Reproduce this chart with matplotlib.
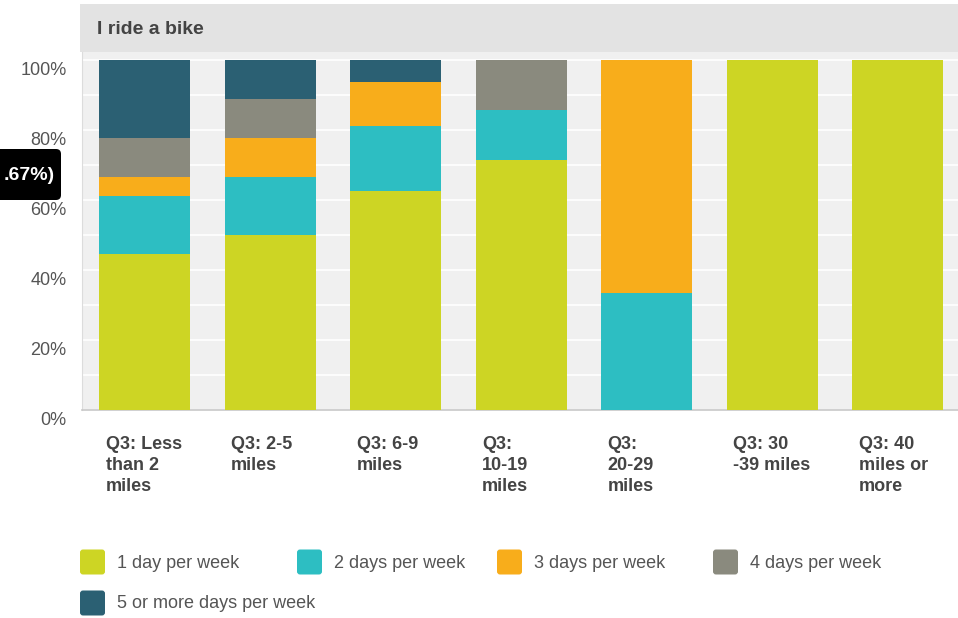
import matplotlib
matplotlib.use("Agg")
import matplotlib.pyplot as plt
from matplotlib.patches import FancyBboxPatch, Rectangle
from matplotlib.transforms import ScaledTranslation
import numpy as np

plt.rcParams['font.family'] = ['Liberation Sans', 'DejaVu Sans']

title = "I ride a bike"
categories = ["Q3: Less\nthan 2\nmiles", "Q3: 2-5\nmiles", "Q3: 6-9\nmiles",
              "Q3:\n10-19\nmiles", "Q3:\n20-29\nmiles", "Q3: 30\n-39 miles",
              "Q3: 40\nmiles or\nmore"]
series_names = ["1 day per week", "2 days per week", "3 days per week",
                "4 days per week", "5 or more days per week"]
one_day = [44.44, 50.00, 62.50, 71.43, 0.00, 100.0, 100.0]
two_days = [16.67, 16.67, 18.75, 14.29, 33.33, 0.0, 0.0]
three_days = [5.56, 11.11, 12.50, 0.00, 66.67, 0.0, 0.0]
four_days = [11.11, 11.11, 0.00, 14.29, 0.00, 0.0, 0.0]
five_plus = [22.22, 11.11, 6.25, 0.00, 0.00, 0.0, 0.0]
yticks = [0, 20, 40, 60, 80, 100]
ytick_labels = ["0%", "20%", "40%", "60%", "80%", "100%"]
tooltip_text = ".67%)"

colors = ["#cdd524", "#2dbec2", "#f8ad1b", "#8a8a7e", "#2b6073"]

W, H = 958, 618
fig = plt.figure(figsize=(W / 100, H / 100), dpi=100)
fig.patch.set_facecolor("white")

# overlay in pixel coordinates for decorations
ov = fig.add_axes([0, 0, 1, 1], zorder=0)
ov.set_xlim(0, W)
ov.set_ylim(H, 0)
ov.axis("off")
ov.add_patch(Rectangle((80, 4), W - 80, 48, facecolor="#e3e3e3", edgecolor="none"))
ov.text(97, 30, title, fontsize=14, fontweight="bold", color="#444444",
        va="center", ha="left")

# main axes
left_px, right_px = 82, 82 + 7 * 125.5
top_px, bot_px = 52, 410
ymax = 100 * (bot_px - top_px) / (bot_px - 60)
ax = fig.add_axes([left_px / W, (H - bot_px) / H, (right_px - left_px) / W,
                   (bot_px - top_px) / H], zorder=1)
ax.set_facecolor("#f0f0f0")
x = np.arange(len(categories))
data = [one_day, two_days, three_days, four_days, five_plus]
bottom = np.zeros(len(categories))
for vals, c, name in zip(data, colors, series_names):
    ax.bar(x, vals, width=0.725, bottom=bottom, color=c, label=name, zorder=3)
    bottom += np.array(vals)

ax.set_xlim(-0.5, 6.5)
ax.set_ylim(0, ymax)
ax.set_axisbelow(True)
ax.set_yticks(yticks)
ax.set_yticks(np.arange(10, 101, 20), minor=True)
ax.yaxis.grid(True, which="both", color="white", linewidth=1.2)
ax.set_yticklabels(ytick_labels, fontsize=13, color="#555555")
ax.tick_params(axis="y", which="both", length=0, pad=15)
off = ScaledTranslation(4 / 72, -6 / 72, fig.dpi_scale_trans)
for lab in ax.get_yticklabels():
    lab.set_transform(lab.get_transform() + off)
ax.set_xticks(x)
ax.set_xticklabels([])
ax.tick_params(axis="x", length=0)
for i, cat in enumerate(categories):
    ax.text(i - 0.362 + 0.05, -7.5, cat, fontsize=13, fontweight="bold",
            color="#444444", ha="left", va="top", linespacing=1.28,
            transform=ax.transData, clip_on=False)
for s in ["top", "right"]:
    ax.spines[s].set_visible(False)
ax.spines["left"].set_color("#dcdcdc")
ax.spines["bottom"].set_color("#c8c8c8")
ax.spines["bottom"].set_linewidth(1.2)

# legend drawn in pixel coordinates
ov2 = fig.add_axes([0, 0, 1, 1], zorder=2)
ov2.set_xlim(0, W)
ov2.set_ylim(H, 0)
ov2.axis("off")
leg_pos = [(80, 562), (297, 562), (497, 562), (713, 562), (80, 603)]
for (lx, ly), c, name in zip(leg_pos, colors, series_names):
    ov2.add_patch(FancyBboxPatch((lx + 2, ly - 10.5), 21, 21,
                                 boxstyle="round,pad=2,rounding_size=3",
                                 facecolor=c, edgecolor="none"))
    ov2.text(lx + 37, ly + 1, name, fontsize=13, color="#555555",
             ha="left", va="center")

# tooltip fragment
ov2.add_patch(FancyBboxPatch((-10, 149), 71, 51,
                             boxstyle="round,pad=0,rounding_size=5",
                             facecolor="black", edgecolor="none"))
ov2.text(4, 175, tooltip_text, fontsize=14, fontweight="bold", color="white",
         ha="left", va="center")

fig.savefig("out.png", dpi=100)
